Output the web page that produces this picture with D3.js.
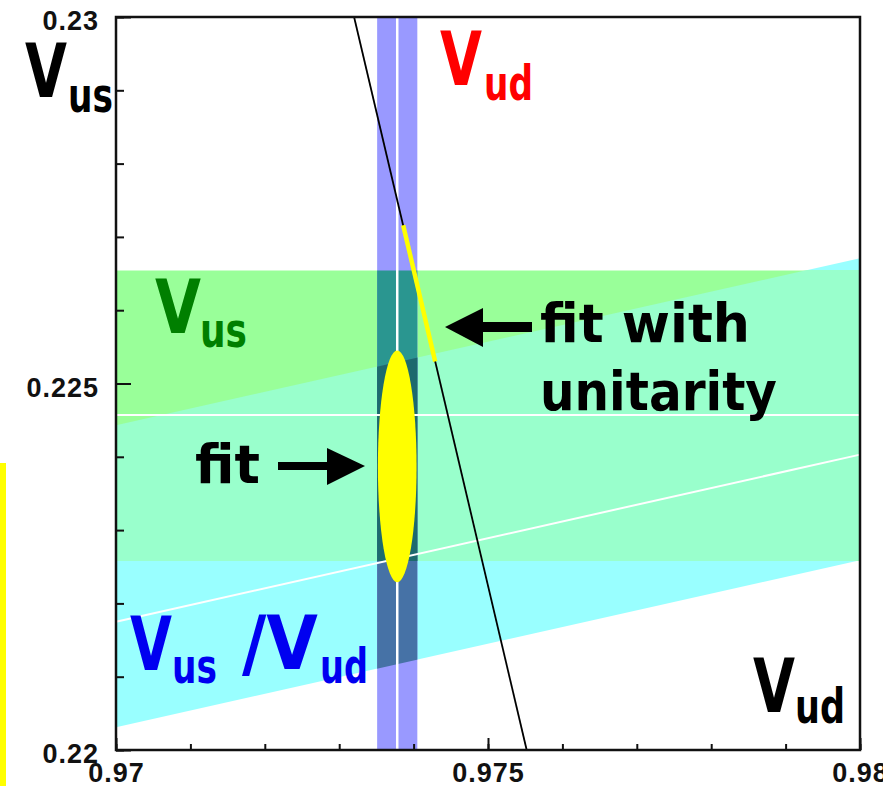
<!DOCTYPE html>
<html lang="en">
<head>
  <meta charset="UTF-8">
  <title>Vud - Vus</title>
  <script src="https://cdn.jsdelivr.net/npm/d3@7/dist/d3.min.js"></script>
  <style>
    body { margin: 0; background: #fff; }
    svg { display: block; }
  </style>
</head>
<body>
<script>
  // axis values
  const xDomain = [0.97, 0.98];
  const yDomain = [0.22, 0.23];
  const xTicks = [0.97, 0.971, 0.972, 0.973, 0.974, 0.975, 0.976, 0.977, 0.978, 0.979, 0.98];
  const yTicks = [0.22, 0.221, 0.222, 0.223, 0.224, 0.225, 0.226, 0.227, 0.228, 0.229, 0.23];
  const xLabelTicks = [0.97, 0.975, 0.98];
  const xTickLabels = ["0.97", "0.975", "0.98"];
  const yLabelTicks = [0.22, 0.225, 0.23];
  const yTickLabels = ["0.22", "0.225", "0.23"];

  // Vud band (vertical)
  const vudBand = [0.97351, 0.97405];
  const vudCentral = [0.97378];
  // Vus band (horizontal)
  const vusBand = [0.22258, 0.22654];
  const vusCentral = [0.22457];
  // Vus/Vud band, Vus read at the two plot edges
  const ratioVud = [0.97, 0.98];
  const ratioLow = [0.22031, 0.22259];
  const ratioMid = [0.22175, 0.22403];
  const ratioHigh = [0.22443, 0.22671];
  // unitarity line and the part kept by the fit with unitarity
  const unitVud = [0.97320, 0.97552];
  const unitVus = [0.23, 0.22];
  const unitFitVud = [0.97386, 0.97429];
  const unitFitVus = [0.22716, 0.22530];
  // fit ellipse: centre and half widths
  const fitCentre = [0.97378, 0.22387];
  const fitHalf = [0.00026, 0.00158];

  const width = 883, height = 786;
  const pLeft = 116, pRight = 860, pTop = 17, pBottom = 750;

  const x = d3.scaleLinear().domain(xDomain).range([pLeft, pRight]);
  const y = d3.scaleLinear().domain(yDomain).range([pBottom, pTop]);

  const svg = d3.select("body").append("svg")
    .attr("width", width)
    .attr("height", height);

  // stray yellow strip at the left border of the slide
  svg.append("rect").attr("x", 0).attr("y", 463).attr("width", 6).attr("height", height - 463)
    .attr("fill", "#ffff00");

  const defs = svg.append("defs");
  defs.append("clipPath").attr("id", "clipBlue").append("rect")
    .attr("x", x(vudBand[0])).attr("y", pTop)
    .attr("width", x(vudBand[1]) - x(vudBand[0])).attr("height", pBottom - pTop);
  defs.append("clipPath").attr("id", "clipGreen").append("rect")
    .attr("x", pLeft).attr("y", y(vusBand[1]))
    .attr("width", pRight - pLeft).attr("height", y(vusBand[0]) - y(vusBand[1]));

  const line = d3.line().x(d => x(d[0])).y(d => y(d[1]));
  const ratioPoly = ratioVud.map((v, i) => [v, ratioHigh[i]])
    .concat(ratioVud.map((v, i) => [v, ratioLow[i]]).reverse());
  const cyanPath = line(ratioPoly) + "Z";

  const plot = svg.append("g");

  plot.append("path").attr("d", cyanPath).attr("fill", "#99ffff");
  plot.append("rect").attr("clip-path", "url(#clipGreen)")
    .attr("x", pLeft).attr("y", pTop).attr("width", pRight - pLeft).attr("height", pBottom - pTop)
    .attr("fill", "#99ff99");
  plot.append("path").attr("d", cyanPath).attr("clip-path", "url(#clipGreen)").attr("fill", "#99ffcc");

  plot.append("rect")
    .attr("x", x(vudBand[0])).attr("y", pTop)
    .attr("width", x(vudBand[1]) - x(vudBand[0])).attr("height", pBottom - pTop)
    .attr("fill", "#9999ff");
  const inBlue = plot.append("g").attr("clip-path", "url(#clipBlue)");
  inBlue.append("rect").attr("clip-path", "url(#clipGreen)")
    .attr("x", pLeft).attr("y", pTop).attr("width", pRight - pLeft).attr("height", pBottom - pTop)
    .attr("fill", "#2a9690");
  inBlue.append("path").attr("d", cyanPath).attr("fill", "#4672a6");
  inBlue.append("g").attr("clip-path", "url(#clipGreen)")
    .append("path").attr("d", cyanPath).attr("fill", "#1d6a6e");

  // central values
  plot.append("line")
    .attr("x1", x(vudCentral[0])).attr("x2", x(vudCentral[0]))
    .attr("y1", pTop).attr("y2", pBottom)
    .attr("stroke", "#fff").attr("stroke-width", 2.5);
  plot.append("line")
    .attr("x1", pLeft).attr("x2", pRight)
    .attr("y1", y(vusCentral[0])).attr("y2", y(vusCentral[0]))
    .attr("stroke", "#fff").attr("stroke-width", 2);
  plot.append("path").attr("d", line(ratioVud.map((v, i) => [v, ratioMid[i]])))
    .attr("fill", "none").attr("stroke", "#fff").attr("stroke-width", 2);

  // unitarity
  plot.append("path").attr("d", line(unitVud.map((v, i) => [v, unitVus[i]])))
    .attr("fill", "none").attr("stroke", "#000").attr("stroke-width", 1.8);
  plot.append("path").attr("d", line(unitFitVud.map((v, i) => [v, unitFitVus[i]])))
    .attr("fill", "none").attr("stroke", "#ffff00").attr("stroke-width", 4.5);

  // fit ellipse
  plot.append("ellipse")
    .attr("cx", x(fitCentre[0])).attr("cy", y(fitCentre[1]))
    .attr("rx", x(fitCentre[0] + fitHalf[0]) - x(fitCentre[0]))
    .attr("ry", y(fitCentre[1]) - y(fitCentre[1] + fitHalf[1]))
    .attr("fill", "#ffff00");

  // axes
  const tickFont = "'Liberation Sans', Arial, sans-serif";
  const xMinor = svg.append("g").attr("transform", `translate(0,${pBottom})`)
    .call(d3.axisBottom(x).tickValues(xTicks).tickSize(-6).tickFormat(""));
  const xMajor = svg.append("g").attr("transform", `translate(0,${pBottom})`)
    .call(d3.axisBottom(x).tickValues(xLabelTicks).tickSize(-12).tickPadding(13)
      .tickFormat((d, i) => xTickLabels[i]));
  const yMinor = svg.append("g").attr("transform", `translate(${pLeft},0)`)
    .call(d3.axisLeft(y).tickValues(yTicks).tickSize(-8).tickFormat(""));
  const yMajor = svg.append("g").attr("transform", `translate(${pLeft},0)`)
    .call(d3.axisLeft(y).tickValues(yLabelTicks).tickSize(-15).tickPadding(17)
      .tickFormat((d, i) => yTickLabels[i]));
  [xMinor, xMajor, yMinor, yMajor].forEach(g => {
    g.select(".domain").remove();
    g.selectAll(".tick line").attr("stroke", "#111").attr("stroke-width", 2);
    g.selectAll(".tick text")
      .attr("fill", "#111")
      .style("font-family", tickFont)
      .style("font-weight", "bold")
      .style("font-size", "27px")
      .style("letter-spacing", "1px");
  });
  yMajor.selectAll(".tick text").attr("dy", "0.48em");

  svg.append("rect")
    .attr("x", pLeft).attr("y", pTop)
    .attr("width", pRight - pLeft).attr("height", pBottom - pTop)
    .attr("fill", "none").attr("stroke", "#111").attr("stroke-width", 2.5);

  // labels
  const labelFont = "'DejaVu Sans', 'Comic Sans MS', sans-serif";
  const addText = (str, tx, ty, size, len, color) => {
    svg.append("text")
      .attr("x", tx).attr("y", ty)
      .attr("textLength", len).attr("lengthAdjust", "spacingAndGlyphs")
      .attr("fill", color)
      .style("font-family", labelFont)
      .style("font-weight", "bold")
      .style("font-size", size + "px")
      .text(str);
  };

  // V with subscript
  const vLabels = [
    { v: "V", vx: 25, vy: 97, vw: 42, sub: "us", sx: 68, sy: 112, sw: 45, color: "#000" },
    { v: "V", vx: 440, vy: 85, vw: 42, sub: "ud", sx: 484, sy: 100, sw: 49, color: "#ff0000" },
    { v: "V", vx: 155, vy: 333, vw: 46, sub: "us", sx: 200, sy: 347, sw: 47, color: "#007f00" },
    { v: "V", vx: 130, vy: 670, vw: 42, sub: "us", sx: 172, sy: 683, sw: 45, color: "#0000f0" },
    { v: "/V", vx: 242, vy: 669, vw: 76, sub: "ud", sx: 320, sy: 683, sw: 48, color: "#0000f0" },
    { v: "V", vx: 753, vy: 712, vw: 42, sub: "ud", sx: 795, sy: 723, sw: 50, color: "#000" }
  ];
  vLabels.forEach(l => {
    addText(l.v, l.vx, l.vy, 74, l.vw, l.color);
    addText(l.sub, l.sx, l.sy, 48, l.sw, l.color);
  });

  addText("fit with", 540, 342, 54, 210, "#000");
  addText("unitarity", 540, 410, 54, 237, "#000");
  addText("fit", 195, 483, 54, 65, "#000");

  // arrows
  svg.append("rect").attr("x", 278).attr("y", 462).attr("width", 51).attr("height", 8).attr("fill", "#000");
  svg.append("path").attr("d", "M327,448 L365,466 L327,485 Z").attr("fill", "#000");
  svg.append("rect").attr("x", 481).attr("y", 322).attr("width", 51).attr("height", 10).attr("fill", "#000");
  svg.append("path").attr("d", "M445,327 L483,308 L483,347 Z").attr("fill", "#000");
</script>
</body>
</html>
